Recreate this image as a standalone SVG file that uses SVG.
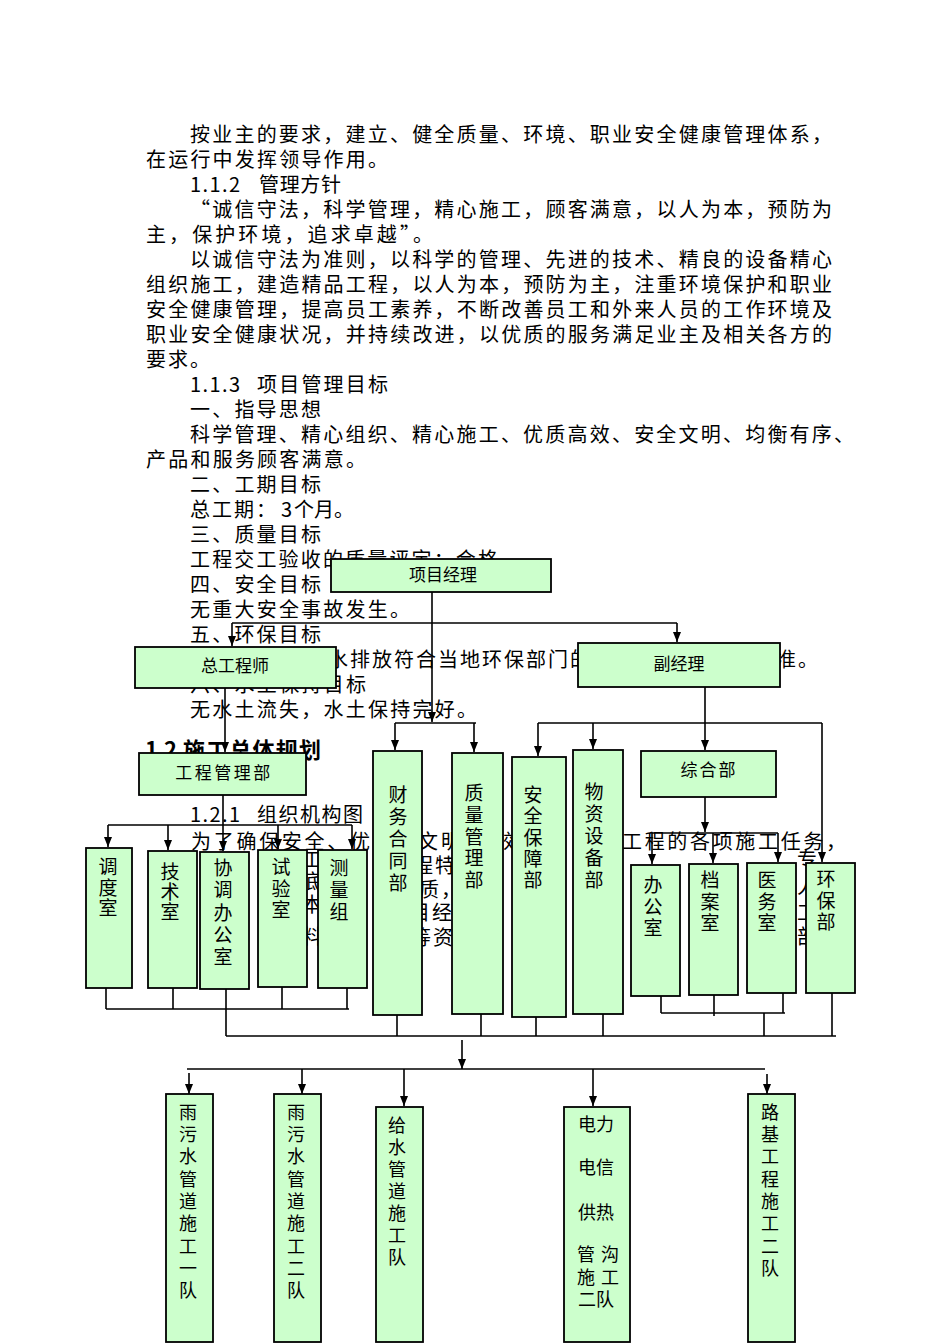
<svg xmlns="http://www.w3.org/2000/svg" width="950" height="1344" viewBox="0 0 950 1344">
<style>
.p{font-family:"Noto Sans CJK SC","Noto Sans CJK JP",sans-serif;font-size:20px;fill:#000}
.h{font-family:"Noto Sans CJK SC","Noto Sans CJK JP",sans-serif;font-size:22px;font-weight:bold;fill:#000}
.b{fill:#CCFFCC;stroke:#000;stroke-width:1.8}
.t{font-family:"Noto Sans CJK SC","Noto Sans CJK JP",sans-serif;font-size:17px;fill:#000;text-anchor:middle}
.v{font-family:"Noto Sans CJK SC","Noto Sans CJK JP",sans-serif;font-size:19px;fill:#000;writing-mode:vertical-rl}
.w{font-family:"Noto Sans CJK SC","Noto Sans CJK JP",sans-serif;font-size:18px;fill:#000;writing-mode:vertical-rl}
.r{font-family:"Noto Sans CJK SC","Noto Sans CJK JP",sans-serif;font-size:18px;fill:#000}
.c{stroke:#000;stroke-width:1.6;fill:none}
</style>
<defs>
<marker id="a" markerWidth="10" markerHeight="8" refX="10" refY="4" orient="auto" markerUnits="userSpaceOnUse"><path d="M0,0 L10,4 L0,8 z" fill="#000"/></marker>
</defs>
<rect width="950" height="1344" fill="#fff"/>
<g id="text" class="p">
<text x="190" y="142" textLength="642" lengthAdjust="spacing">按业主的要求，建立、健全质量、环境、职业安全健康管理体系，</text>
<text x="146" y="167" textLength="242" lengthAdjust="spacing">在运行中发挥领导作用。</text>
<text y="192"><tspan x="190" textLength="50" lengthAdjust="spacing">1.1.2</tspan><tspan x="259" textLength="82" lengthAdjust="spacing">管理方针</tspan></text>
<text x="190" y="217" textLength="642" lengthAdjust="spacing">“诚信守法，科学管理，精心施工，顾客满意，以人为本，预防为</text>
<text x="146" y="242" textLength="287" lengthAdjust="spacing">主，保护环境，追求卓越”。</text>
<text x="190" y="267" textLength="642" lengthAdjust="spacing">以诚信守法为准则，以科学的管理、先进的技术、精良的设备精心</text>
<text x="146" y="292" textLength="686" lengthAdjust="spacing">组织施工，建造精品工程，以人为本，预防为主，注重环境保护和职业</text>
<text x="146" y="317" textLength="686" lengthAdjust="spacing">安全健康管理，提高员工素养，不断改善员工和外来人员的工作环境及</text>
<text x="146" y="342" textLength="686" lengthAdjust="spacing">职业安全健康状况，并持续改进，以优质的服务满足业主及相关各方的</text>
<text x="146" y="367" textLength="64" lengthAdjust="spacing">要求。</text>
<text y="392"><tspan x="190" textLength="50" lengthAdjust="spacing">1.1.3</tspan><tspan x="257" textLength="131" lengthAdjust="spacing">项目管理目标</tspan></text>
<text x="190" y="417" textLength="131" lengthAdjust="spacing">一、指导思想</text>
<text x="190" y="442" textLength="664" lengthAdjust="spacing">科学管理、精心组织、精心施工、优质高效、安全文明、均衡有序、</text>
<text x="146" y="467" textLength="220" lengthAdjust="spacing">产品和服务顾客满意。</text>
<text x="190" y="492" textLength="131" lengthAdjust="spacing">二、工期目标</text>
<text y="517"><tspan x="190" textLength="86" lengthAdjust="spacing">总工期：</tspan><tspan x="281">3</tspan><tspan x="294" textLength="60" lengthAdjust="spacing">个月。</tspan></text>
<text x="190" y="542" textLength="131" lengthAdjust="spacing">三、质量目标</text>
<text x="190" y="567" textLength="308" lengthAdjust="spacing">工程交工验收的质量评定：合格</text>
<text x="190" y="592" textLength="131" lengthAdjust="spacing">四、安全目标</text>
<text x="190" y="617" textLength="220" lengthAdjust="spacing">无重大安全事故发生。</text>
<text x="190" y="642" textLength="131" lengthAdjust="spacing">五、环保目标</text>
<text x="328" y="667" textLength="262" lengthAdjust="spacing">水排放符合当地环保部门的</text>
<text x="776" y="667" textLength="42" lengthAdjust="spacing">准。</text>
<text x="190" y="692" textLength="176" lengthAdjust="spacing">六、水土保持目标</text>
<text x="190" y="717" textLength="287" lengthAdjust="spacing">无水土流失，水土保持完好。</text>
<text class="h" y="758"><tspan x="145" textLength="32" lengthAdjust="spacing">1.2</tspan><tspan x="183" textLength="138" lengthAdjust="spacing">施工总体规划</tspan></text>
<text y="822"><tspan x="190" textLength="50" lengthAdjust="spacing">1.2.1</tspan><tspan x="257" textLength="106" lengthAdjust="spacing">组织机构图</tspan></text>
<text x="191" y="849" textLength="179" lengthAdjust="spacing">为了确保安全、优</text>
<text x="418" y="849" textLength="43" lengthAdjust="spacing">文明</text>
<text x="503" y="849">效</text>
<text x="622" y="849" textLength="224" lengthAdjust="spacing">工程的各项施工任务，</text>
<text x="413" y="873" textLength="42" lengthAdjust="spacing">程特</text>
<text x="419" y="897" textLength="42" lengthAdjust="spacing">质，</text>
<text x="410" y="920" textLength="42" lengthAdjust="spacing">目经</text>
<text x="411" y="945" textLength="42" lengthAdjust="spacing">等资</text>
<text x="302" y="867">工</text>
<text x="302" y="889">底</text>
<text x="302" y="912">本</text>
<text x="302" y="944">料</text>
<text x="797" y="867">专</text>
<text x="797" y="894">人</text>
<text x="797" y="920">工</text>
<text x="797" y="944">部</text>
</g>
<g id="connectors">
<path class="c" d="M432,592V722" marker-end="url(#a)"/>
<path class="c" d="M395,723H476"/>
<path class="c" d="M395,723V750" marker-end="url(#a)"/>
<path class="c" d="M474,723V752" marker-end="url(#a)"/>
<path class="c" d="M232,623H677"/>
<path class="c" d="M232,623V646" marker-end="url(#a)"/>
<path class="c" d="M677,623V642" marker-end="url(#a)"/>
<path class="c" d="M225,688V752" marker-end="url(#a)"/>
<path class="c" d="M223,795V825M108,825H352"/>
<path class="c" d="M108,825V847" marker-end="url(#a)"/>
<path class="c" d="M168,825V850" marker-end="url(#a)"/>
<path class="c" d="M223,825V851" marker-end="url(#a)"/>
<path class="c" d="M278,825V849" marker-end="url(#a)"/>
<path class="c" d="M352,825V849" marker-end="url(#a)"/>
<path class="c" d="M705,687V723M538,723H822"/>
<path class="c" d="M705,723V750" marker-end="url(#a)"/>
<path class="c" d="M538,723V756" marker-end="url(#a)"/>
<path class="c" d="M593,723V749" marker-end="url(#a)"/>
<path class="c" d="M822,723V862" marker-end="url(#a)"/>
<path class="c" d="M705,797V832" marker-end="url(#a)"/>
<path class="c" d="M652,833H778"/>
<path class="c" d="M652,833V864" marker-end="url(#a)"/>
<path class="c" d="M713,833V863" marker-end="url(#a)"/>
<path class="c" d="M778,833V862" marker-end="url(#a)"/>
<path class="c" d="M106,988V1009M173,988V1009M282,987V1009M347,988V1009M106,1009H349"/>
<path class="c" d="M226,989V1036M226,1036H836"/>
<path class="c" d="M397,1015V1036M481,1014V1036M536,1017V1036M603,1014V1036"/>
<path class="c" d="M661,996V1013M714,995V1016M783,993V1013M661,1013H785M764,1013V1036"/>
<path class="c" d="M832,993V1036"/>
<path class="c" d="M462,1040V1069" marker-end="url(#a)"/>
<path class="c" d="M187,1069H765"/>
<path class="c" d="M189,1073V1094" marker-end="url(#a)"/>
<path class="c" d="M302,1069V1094" marker-end="url(#a)"/>
<path class="c" d="M404,1069V1106" marker-end="url(#a)"/>
<path class="c" d="M593,1069V1106" marker-end="url(#a)"/>
<path class="c" d="M767,1074V1094" marker-end="url(#a)"/>
</g>
<g id="n-pm"><rect class="b" x="331" y="559" width="220" height="33"/><text class="t" x="443" y="581">项目经理</text></g>
<g id="n-chief"><rect class="b" x="135" y="647" width="201" height="41"/><text class="t" x="235" y="672">总工程师</text></g>
<g id="n-deputy"><rect class="b" x="578" y="643" width="202" height="44"/><text class="t" x="679" y="670">副经理</text></g>
<g id="n-eng"><rect class="b" x="139" y="753" width="167" height="42"/><text class="t" x="224" y="779" letter-spacing="2.5">工程管理部</text></g>
<g id="n-fin"><rect class="b" x="373" y="751" width="49" height="264"/><text class="v" x="398" y="785.5" letter-spacing="3">财务合同部</text></g>
<g id="n-qual"><rect class="b" x="452" y="753" width="51" height="261"/><text class="v" x="474" y="783.5" letter-spacing="2.75">质量管理部</text></g>
<g id="n-safe"><rect class="b" x="512" y="757" width="54" height="260"/><text class="v" x="533" y="785.5" letter-spacing="2.25">安全保障部</text></g>
<g id="n-mat"><rect class="b" x="573" y="750" width="50" height="264"/><text class="v" x="594" y="782.5" letter-spacing="3">物资设备部</text></g>
<g id="n-gen"><rect class="b" x="641" y="751" width="135" height="46"/><text class="t" x="709" y="776" letter-spacing="2">综合部</text></g>
<g id="n-disp"><rect class="b" x="86" y="848" width="46" height="140"/><text class="v" x="108" y="857.5" letter-spacing="1.5">调度室</text></g>
<g id="n-tech"><rect class="b" x="148" y="851" width="49" height="137"/><text class="v" x="170" y="862.5" letter-spacing="1">技术室</text></g>
<g id="n-coord"><rect class="b" x="200" y="852" width="49" height="137"/><text class="v" x="223" y="858.5" letter-spacing="3.2">协调办公室</text></g>
<g id="n-test"><rect class="b" x="258" y="850" width="49" height="137"/><text class="v" x="281" y="857.5" letter-spacing="2.5">试验室</text></g>
<g id="n-survey"><rect class="b" x="318" y="850" width="49" height="138"/><text class="v" x="339" y="858.5" letter-spacing="3">测量组</text></g>
<g id="n-office"><rect class="b" x="631" y="865" width="49" height="131"/><text class="v" x="653" y="875.5" letter-spacing="2.5">办公室</text></g>
<g id="n-archive"><rect class="b" x="689" y="864" width="49" height="131"/><text class="v" x="710" y="870.5" letter-spacing="2.5">档案室</text></g>
<g id="n-medical"><rect class="b" x="747" y="863" width="49" height="130"/><text class="v" x="767" y="870.5" letter-spacing="2.5">医务室</text></g>
<g id="n-env"><rect class="b" x="806" y="863" width="49" height="130"/><text class="v" x="826" y="869.5" letter-spacing="2.5">环保部</text></g>
<g id="n-t1"><rect class="b" x="166" y="1094" width="47" height="248"/><text class="w" x="188" y="1103" letter-spacing="4.3">雨污水管道施工一队</text></g>
<g id="n-t2"><rect class="b" x="274" y="1094" width="47" height="248"/><text class="w" x="296" y="1103" letter-spacing="4.3">雨污水管道施工二队</text></g>
<g id="n-t3"><rect class="b" x="376" y="1107" width="47" height="235"/><text class="w" x="397" y="1116" letter-spacing="4">给水管道施工队</text></g>
<g id="n-t4"><rect class="b" x="564" y="1107" width="66" height="235"/><text class="r"><tspan x="578" y="1131">电力</tspan><tspan x="578" y="1174">电信</tspan><tspan x="578" y="1219">供热</tspan><tspan x="577" y="1261" textLength="42" lengthAdjust="spacing">管沟</tspan><tspan x="577" y="1284" textLength="42" lengthAdjust="spacing">施工</tspan><tspan x="578" y="1306">二队</tspan></text></g>
<g id="n-t5"><rect class="b" x="748" y="1094" width="47" height="248"/><text class="w" x="770" y="1103" letter-spacing="4.3">路基工程施工二队</text></g>
</svg>
